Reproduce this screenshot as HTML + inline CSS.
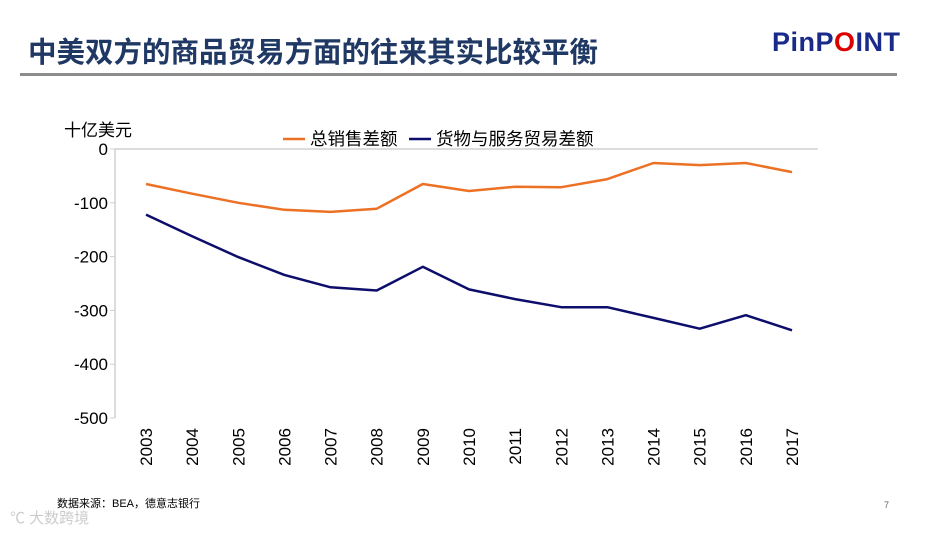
<!DOCTYPE html>
<html><head><meta charset="utf-8"><style>
body{margin:0;width:945px;height:538px;background:#fff;overflow:hidden;font-family:"Liberation Sans","Noto Sans CJK SC",sans-serif;position:relative}
.t{position:absolute}
</style></head><body>
<div class="t" style="left:28px;top:30px;font-size:28.5px;font-weight:bold;color:#1f3864;white-space:nowrap">中美双方的商品贸易方面的往来其实比较平衡</div>
<div class="t" style="left:772px;top:27px;font-size:27px;font-weight:bold;color:#1a2a8a;letter-spacing:0.5px">PinP<span style="color:#d00">O</span>INT</div>
<div class="t" style="left:20px;top:73px;width:877px;height:3px;background:#8c8c8c"></div>
<div class="t" style="left:57px;top:495px;font-size:11px;color:#000">数据来源：BEA，德意志银行</div>
<div class="t" style="left:884px;top:500px;font-size:9px;color:#666">7</div>
<div class="t" style="left:10px;top:507px;font-size:15px;color:#ccc">℃ 大数跨境</div>
<svg class="t" style="left:0;top:0" width="945" height="538">
<g id="g"></g>
</svg>
<script>
const years=[2003,2004,2005,2006,2007,2008,2009,2010,2011,2012,2013,2014,2015,2016,2017];
const totalSales=[-65,-83,-100,-113,-117,-111,-65,-78,-70,-71,-56,-26,-30,-26,-43];
const goodsServices=[-122,-162,-201,-234,-257,-263,-219,-261,-279,-294,-294,-314,-334,-309,-337];
const yTicks=[0,-100,-200,-300,-400,-500];
const NS="http://www.w3.org/2000/svg",g=document.getElementById('g');
const X=i=>146+i*46.14, Y=v=>149-v*0.538;
function el(t,a,txt){const e=document.createElementNS(NS,t);for(const k in a)e.setAttribute(k,a[k]);if(txt!=null)e.textContent=txt;g.appendChild(e);return e;}
let e;
e=el('line',{x1:115,y1:Y(0),x2:115,y2:Y(-500),stroke:'#d0d0d0','stroke-width':1.5});

e=el('line',{x1:115,y1:Y(0),x2:818,y2:Y(0),stroke:'#d0d0d0','stroke-width':1.5});

yTicks.forEach(v=>{
 e=el('line',{x1:110,y1:Y(v),x2:115,y2:Y(v),stroke:'#d0d0d0'});
 
 e=el('text',{x:108,y:Y(v)+6,'text-anchor':'end','font-size':17,fill:'#000'},String(v));
 
});
years.forEach((y,i)=>{
 e=el('text',{x:0,y:0,'text-anchor':'end','font-size':17,fill:'#000',transform:`translate(${X(i)+6},428) rotate(-90)`},String(y));
 
});
e=el('text',{x:64,y:136,'font-size':17,fill:'#000'},'十亿美元');

function line(d,c,n){const p=d.map((v,i)=>X(i).toFixed(1)+','+Y(v).toFixed(1)).join(' ');
 const e=el('polyline',{points:p,fill:'none',stroke:c,'stroke-width':2.5,'stroke-linejoin':'round'});
 }
line(totalSales,'#ed7125','line-total-sales');
line(goodsServices,'#0d0d6b','line-goods-services');
e=el('line',{x1:283,y1:139,x2:305,y2:139,stroke:'#ed7125','stroke-width':2.5});

e=el('text',{x:310,y:145,'font-size':17.5,fill:'#000'},'总销售差额');

e=el('line',{x1:409,y1:139,x2:431,y2:139,stroke:'#0d0d6b','stroke-width':2.5});

e=el('text',{x:436,y:145,'font-size':17.5,fill:'#000'},'货物与服务贸易差额');

</script>
</body></html>
